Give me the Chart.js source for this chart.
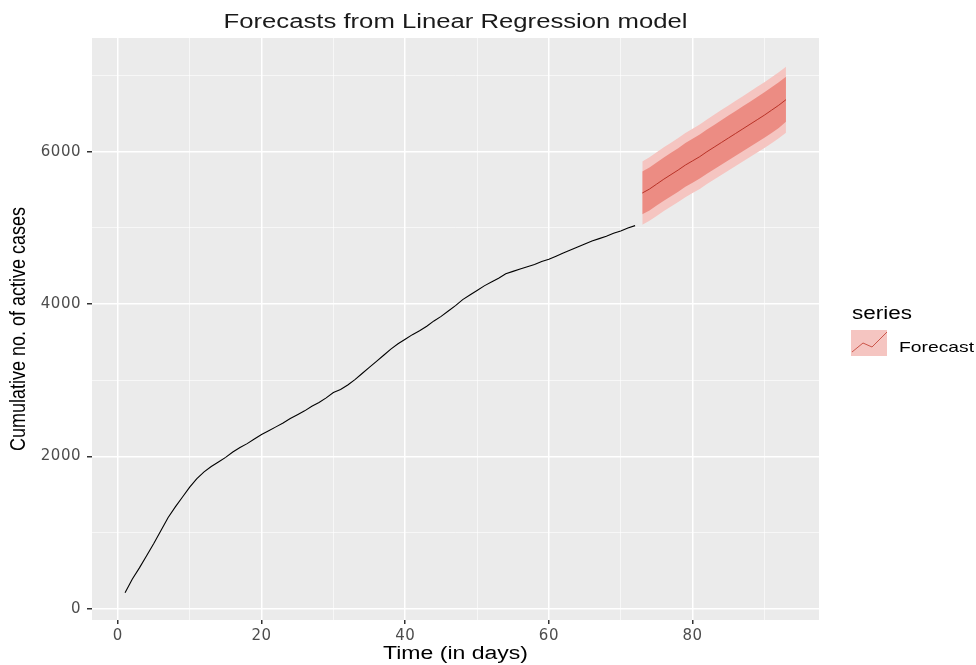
<!DOCTYPE html>
<html><head><meta charset="utf-8">
<script src="https://cdn.jsdelivr.net/npm/chart.js@4/dist/chart.umd.min.js"></script>
<style>html,body{margin:0;padding:0;background:#fff;}</style>
</head><body>
<canvas id="c" width="976" height="665"></canvas>
<script>
// ---- data ----
const histDays = [1,2,3,4,5,6,7,8,9,10,11,12,13,14,15,16,17,18,19,20,21,22,23,24,25,26,27,28,29,30,31,32,33,34,35,36,37,38,39,40,41,42,43,44,45,46,47,48,49,50,51,52,53,54,55,56,57,58,59,60,61,62,63,64,65,66,67,68,69,70,71,72];
const histCases = [215,390,540,700,860,1030,1200,1340,1470,1600,1710,1800,1870,1930,1990,2060,2120,2170,2230,2290,2340,2390,2440,2500,2550,2600,2660,2710,2770,2840,2880,2940,3010,3090,3170,3250,3330,3410,3480,3540,3600,3650,3710,3780,3840,3910,3980,4060,4120,4180,4240,4290,4340,4400,4430,4460,4490,4520,4560,4590,4630,4670,4710,4750,4790,4830,4860,4890,4930,4960,5000,5030];
const fcDays = [73,74,75,76,77,78,79,80,81,82,83,84,85,86,87,88,89,90,91,92,93];
const fcMean = [5458,5510,5575,5640,5700,5760,5825,5880,5935,6000,6060,6120,6180,6240,6300,6360,6420,6480,6545,6610,6683];
const fcHi80 = [5740,5793,5859,5925,5986,6047,6113,6169,6225,6291,6352,6413,6474,6535,6596,6657,6718,6779,6845,6911,6982];
const fcLo80 = [5178,5229,5293,5357,5416,5475,5539,5593,5647,5711,5770,5829,5888,5947,6006,6065,6124,6183,6247,6311,6393];
const fcHi95 = [5873,5926,5992,6058,6119,6180,6246,6302,6358,6424,6485,6546,6607,6668,6729,6790,6851,6912,6978,7044,7116];
const fcLo95 = [5043,5094,5158,5222,5281,5340,5404,5458,5512,5576,5635,5694,5753,5812,5871,5930,5989,6048,6112,6176,6250];
const xTickLabels = [0,20,40,60,80];
const xGridValues = [0,10,20,30,40,50,60,70,80,90];
const yTickLabels = [0,2000,4000,6000];
const yGridValues = [0,1000,2000,3000,4000,5000,6000,7000];
const titleText = 'Forecasts from Linear Regression model';
const xTitle = 'Time (in days)';
const yTitle = 'Cumulative no. of active cases';
const legendTitle = 'series';
const legendLabel = 'Forecast';

const pts = (xs, ys) => xs.map((x, i) => ({x: x, y: ys[i]}));

// draw text with an independent horizontal (glyph-width) stretch
function stretchText(ctx, str, x, y, font, color, sx, sy, align, rot) {
  ctx.save();
  ctx.letterSpacing = '0px';
  ctx.font = font;
  ctx.fillStyle = color;
  ctx.textBaseline = 'alphabetic';
  ctx.textAlign = 'left';
  const w = ctx.measureText(str).width;
  ctx.translate(x, y);
  if (rot) ctx.rotate(rot);
  ctx.scale(sx, sy);
  const ox = align === 'center' ? -w / 2 : 0;
  ctx.fillText(str, ox, 0);
  ctx.restore();
}
function widthScale(ctx, str, font, target) {
  ctx.save(); ctx.letterSpacing = '0px'; ctx.font = font;
  const w = ctx.measureText(str).width; ctx.restore();
  return target / w;
}

const bgPlugin = {
  id: 'bg',
  beforeDraw(chart) {
    const {ctx, chartArea: a} = chart;
    ctx.save();
    ctx.fillStyle = '#ffffff';
    ctx.fillRect(0, 0, chart.width, chart.height);
    ctx.fillStyle = '#EBEBEB';
    ctx.fillRect(a.left, a.top, a.right - a.left, a.bottom - a.top);
    ctx.restore();
    ctx.letterSpacing = '0.5px';
  },
  afterDraw(chart) {
    const ctx = chart.ctx;
    const a = chart.chartArea;
    const cx = (a.left + a.right) / 2;
    const cy = (a.top + a.bottom) / 2;
    const fT = '20px "Liberation Sans"';
    stretchText(ctx, titleText, cx, 27.5, fT, '#1a1a1a', widthScale(ctx, titleText, fT, 464), 1, 'center');
    const fX = '18px "Liberation Sans"';
    stretchText(ctx, xTitle, cx, 659, fX, '#000', widthScale(ctx, xTitle, fX, 145), 1, 'center');
    stretchText(ctx, yTitle, 25, cy, '18px "Liberation Sans"', '#000', 1, 1.25, 'center', -Math.PI / 2);
    // legend
    const fL = '18px "Liberation Sans"';
    stretchText(ctx, legendTitle, 852, 319, fL, '#000', widthScale(ctx, legendTitle, fL, 60), 1, 'left');
    ctx.save();
    ctx.fillStyle = '#F5C5C1';
    ctx.fillRect(851, 330, 36, 26);
    ctx.strokeStyle = '#C0392B';
    ctx.lineWidth = 0.8;
    ctx.beginPath();
    ctx.moveTo(852, 352); ctx.lineTo(863, 343); ctx.lineTo(872, 347); ctx.lineTo(887, 332);
    ctx.stroke();
    ctx.restore();
    const fF = '15px "Liberation Sans"';
    stretchText(ctx, legendLabel, 899, 351.5, fF, '#000', widthScale(ctx, legendLabel, fF, 75), 1, 'left');
  }
};

const noLine = {borderColor: 'rgba(0,0,0,0)', borderWidth: 0, pointRadius: 0};
const tickFont = {family: 'DejaVu Sans', size: 15};

new Chart(document.getElementById('c'), {
  type: 'line',
  data: {
    datasets: [
      {label: 'Forecast', data: pts(fcDays, fcMean), borderColor: '#B83227', borderWidth: 1, pointRadius: 0, fill: false},
      {label: 'Observed', data: pts(histDays, histCases), borderColor: '#000000', borderWidth: 1.1, pointRadius: 0, fill: false},
      Object.assign({label: 'Hi80', data: pts(fcDays, fcHi80), fill: false}, noLine),
      Object.assign({label: 'Lo80', data: pts(fcDays, fcLo80), fill: '-1', backgroundColor: '#EC8C83'}, noLine),
      Object.assign({label: 'Hi95', data: pts(fcDays, fcHi95), fill: false}, noLine),
      Object.assign({label: 'Lo95', data: pts(fcDays, fcLo95), fill: '-1', backgroundColor: '#F5C5C1'}, noLine)
    ]
  },
  options: {
    responsive: false,
    animation: false,
    devicePixelRatio: 1,
    layout: {padding: {left: 0, right: 157, top: 38, bottom: 0}},
    plugins: {legend: {display: false}, title: {display: false}, tooltip: {enabled: false}, filler: {propagate: false}},
    elements: {line: {tension: 0}},
    scales: {
      x: {
        type: 'linear', min: -3.6, max: 97.6,
        afterFit(s) { s.height = 45; },
        afterBuildTicks(s) { s.ticks = xGridValues.map(v => ({value: v})); },
        border: {display: false},
        grid: {
          color: '#ffffff',
          lineWidth: c => (c.tick && xTickLabels.includes(c.tick.value)) ? 1.5 : 0.6,
          tickColor: c => (c.tick && xTickLabels.includes(c.tick.value)) ? '#333333' : 'rgba(0,0,0,0)',
          tickLength: 4
        },
        ticks: {
          autoSkip: false, maxRotation: 0,
          color: '#4D4D4D', font: tickFont, padding: 3,
          callback: v => xTickLabels.includes(v) ? String(v) : ''
        }
      },
      y: {
        type: 'linear', min: -144, max: 7492,
        afterFit(s) { s.width = 92; },
        afterBuildTicks(s) { s.ticks = yGridValues.map(v => ({value: v})); },
        border: {display: false},
        grid: {
          color: '#ffffff',
          lineWidth: c => (c.tick && yTickLabels.includes(c.tick.value)) ? 1.5 : 0.6,
          tickColor: c => (c.tick && yTickLabels.includes(c.tick.value)) ? '#333333' : 'rgba(0,0,0,0)',
          tickLength: 5
        },
        ticks: {
          autoSkip: false,
          color: '#4D4D4D', font: tickFont, padding: 6,
          callback: v => yTickLabels.includes(v) ? String(v) : ''
        }
      }
    }
  },
  plugins: [bgPlugin]
});
</script>
</body></html>
